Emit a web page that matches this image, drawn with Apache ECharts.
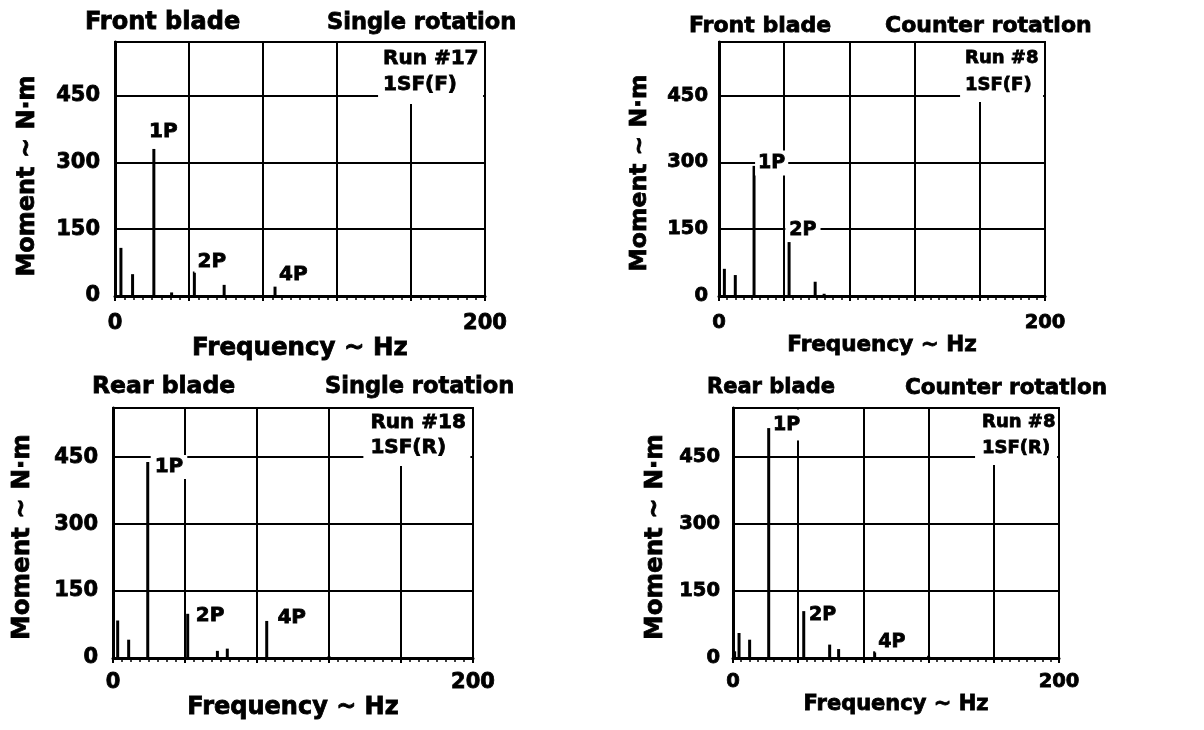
<!DOCTYPE html>
<html>
<head>
<meta charset="utf-8">
<title>Blade moment spectra</title>
<script src="https://cdn.jsdelivr.net/npm/echarts@6/dist/echarts.min.js"></script>
<style>
html, body { margin: 0; padding: 0; background: #fff; }
#main { width: 1204px; height: 730px; }
</style>
</head>
<body>
<div id="main"></div>
<script>
// peaks (Hz, N·m)
var frontSingleFreq = [3.2, 9.5, 21, 30.6, 42.9, 59, 86.5];
var frontSingleAmp = [108, 49, 330, 8, 55, 25, 21];
var frontCounterFreq = [3.3, 10, 21.5, 43, 59, 64.5];
var frontCounterAmp = [61, 47, 292, 121, 32, 5];
var rearSingleFreq = [2.6, 8.7, 19.3, 41.5, 58, 63.5, 85.4, 120];
var rearSingleAmp = [84, 41, 439, 99, 16, 21, 83, 4];
var rearCounterFreq = [1, 3.7, 10.2, 21.9, 43.4, 59.3, 64.8, 86.9, 120];
var rearCounterAmp = [15, 56, 41, 515, 105, 30, 20, 15, 5];

var freqTickLabels = [0, 200];
var momentTickLabels = [0, 150, 300, 450];

var FONT = 'DejaVu Sans';
// thin outline to get the heavy look of the printed lettering
var HEAVY = { textBorderColor: '#000', textBorderWidth: 0.8 };

var panels = [
  {
    freq: frontSingleFreq, amp: frontSingleAmp,
    titles: [['Front blade', 85, 23, 24], ['Single rotation', 327, 23, 22.5]],
    left: 115, top: 42, width: 370, height: 254, ymax: 570,
    tickFs: 21, yMargin: 15, xMargin: 17, yNameFs: 24, yNameGap: 75, yNamePad: [0, 14, 0, 0], xNameFs: 24.5, xNameGap: 37,
    labelFs: 20,
    labels: [['1P', 26.1, 368.7, [1, 3, 1, 3]], ['2P', 52.3, 77, [1, 3, 1, 3]], ['4P', 96.4, 47, [1, 3, 1, 3]]],
    run: { text: 'Run #17\n1SF(F)', x: 142.2, y: 568, fs: 20, lh: 26, width: 100, pad: [3, 0, 6, 5] }
  },
  {
    freq: frontCounterFreq, amp: frontCounterAmp,
    titles: [['Front blade', 689, 26, 22], ['Counter rotation', 885, 26, 22]],
    left: 719, top: 42, width: 326, height: 254, ymax: 570,
    tickFs: 19.5, yMargin: 11, xMargin: 17, yNameFs: 23.5, yNameGap: 67, yNamePad: [0, 8, 0, 0], xNameFs: 21.5, xNameGap: 36,
    labelFs: 19,
    labels: [['1P', 32.3, 298.5, [3, 3, 3, 3]], ['2P', 51.5, 148, [2, 4, 2, 4]]],
    run: { text: 'Run #8\n1SF(F)', x: 147.9, y: 568, fs: 18, lh: 27, width: 78, pad: [1.5, 0, 3.5, 5] }
  },
  {
    freq: rearSingleFreq, amp: rearSingleAmp,
    titles: [['Rear blade', 92, 387, 23.5], ['Single rotation', 325, 387, 22.5]],
    left: 113, top: 408, width: 360, height: 250, ymax: 560,
    tickFs: 21, yMargin: 15, xMargin: 14, yNameFs: 24.5, yNameGap: 78, yNamePad: [0, 8, 0, 0], xNameFs: 24, xNameGap: 38,
    labelFs: 20,
    labels: [['1P', 31.1, 428, [2, 4, 2, 4]], ['2P', 53.9, 95.6, [1, 3, 1, 3]], ['4P', 99.3, 91, [1, 3, 1, 3]]],
    run: { text: 'Run #18\n1SF(R)', x: 139.1, y: 558, fs: 20, lh: 25, width: 100, pad: [1, 0, 6, 7] }
  },
  {
    freq: rearCounterFreq, amp: rearCounterAmp,
    titles: [['Rear blade', 707, 388, 21], ['Counter rotation', 905, 388, 21.5]],
    left: 733, top: 408, width: 326, height: 250, ymax: 560,
    tickFs: 19.5, yMargin: 13, xMargin: 14, yNameFs: 24.5, yNameGap: 65, yNamePad: [0, 8, 0, 0], xNameFs: 21, xNameGap: 33,
    labelFs: 19,
    labels: [['1P', 32.9, 522, [10, 2, 2, 2]], ['2P', 55, 95.6, [1, 3, 1, 3]], ['4P', 97.4, 36, [1, 3, 1, 3]]],
    run: { text: 'Run #8\n1SF(R)', x: 148.5, y: 558, fs: 18, lh: 26, width: 75, pad: [0, 0, 4, 7] }
  }
];

var grids = [], xAxes = [], yAxes = [], series = [], graphic = [];

function textStyle(size, extra) {
  return Object.assign({ color: '#000', fontSize: size, fontWeight: 'bold', fontFamily: FONT }, HEAVY, extra || {});
}

panels.forEach(function (p, i) {
  grids.push({
    left: p.left, top: p.top, width: p.width, height: p.height,
    show: true, borderColor: '#000', borderWidth: 2
  });

  xAxes.push({
    gridIndex: i, type: 'value', min: 0, max: 200, interval: 40,
    name: 'Frequency ~ Hz', nameLocation: 'middle', nameGap: p.xNameGap,
    nameTextStyle: textStyle(p.xNameFs),
    axisLine: { show: true, lineStyle: { color: '#000', width: 3 } },
    axisTick: { show: true, length: 5, lineStyle: { color: '#000', width: 2 } },
    minorTick: { show: true, splitNumber: 8, length: 4, lineStyle: { color: '#000', width: 1.5 } },
    axisLabel: textStyle(p.tickFs, {
      margin: p.xMargin,
      formatter: function (v) { return freqTickLabels.indexOf(v) >= 0 ? String(v) : ''; }
    }),
    splitLine: { show: true, lineStyle: { color: '#000', width: 2 } }
  });

  yAxes.push({
    gridIndex: i, type: 'value', min: 0, max: p.ymax, interval: 150,
    name: 'Moment ~ N·m', nameLocation: 'middle', nameGap: p.yNameGap,
    nameTextStyle: textStyle(p.yNameFs, { padding: p.yNamePad }),
    axisLine: { show: true, lineStyle: { color: '#000', width: 3 } },
    axisTick: { show: false },
    axisLabel: textStyle(p.tickFs, {
      margin: p.yMargin,
      formatter: function (v) { return momentTickLabels.indexOf(v) >= 0 ? String(v) : ''; }
    }),
    splitLine: { show: true, lineStyle: { color: '#000', width: 2 } }
  });

  // harmonic tags + run box; white backgrounds break the grid lines like the original
  var marks = p.labels.map(function (l) {
    return {
      name: l[0], coord: [l[1], l[2]],
      label: textStyle(p.labelFs, {
        show: true, position: 'inside', formatter: '{b}', align: 'center', verticalAlign: 'middle',
        backgroundColor: '#fff', padding: l[3]
      })
    };
  });
  marks.push({
    name: p.run.text, coord: [p.run.x, p.run.y],
    label: textStyle(p.run.fs, {
      show: true, position: 'inside', formatter: '{b}', align: 'left', verticalAlign: 'top',
      lineHeight: p.run.lh, width: p.run.width, backgroundColor: '#fff', padding: p.run.pad
    })
  });

  series.push({
    type: 'bar', xAxisIndex: i, yAxisIndex: i, barWidth: 3, silent: true,
    itemStyle: { color: '#000' },
    data: p.freq.map(function (f, k) { return [f, p.amp[k]]; }),
    markPoint: {
      symbol: 'rect', symbolSize: 1, silent: true,
      itemStyle: { color: 'rgba(0,0,0,0)' },
      data: marks
    }
  });

  p.titles.forEach(function (t) {
    graphic.push({
      type: 'text', x: t[1], y: t[2], z: 10,
      style: {
        text: t[0], fill: '#000', stroke: '#000', lineWidth: 0.8,
        fontSize: t[3], fontWeight: 'bold', fontFamily: FONT,
        verticalAlign: 'middle', textVerticalAlign: 'middle'
      }
    });
  });
});

var myChart = echarts.init(document.getElementById('main'));
var option = {
  backgroundColor: '#fff',
  animation: false,
  grid: grids,
  xAxis: xAxes,
  yAxis: yAxes,
  series: series,
  graphic: graphic
};
myChart.setOption(option);
</script>
</body>
</html>
